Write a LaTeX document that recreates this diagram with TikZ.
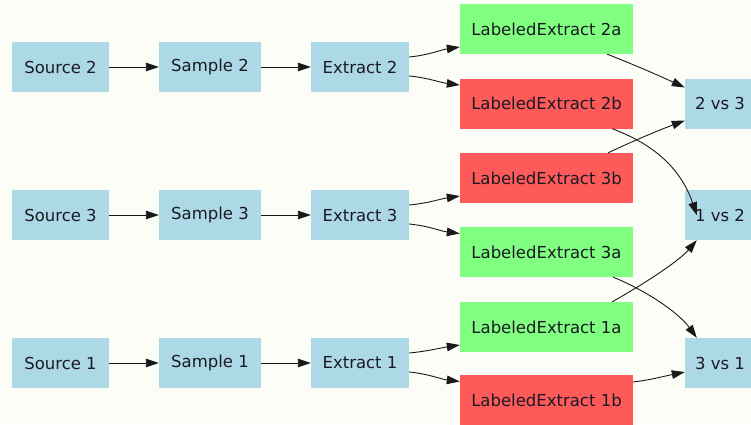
\documentclass[tikz,border=0pt]{standalone}
\usepackage{fontspec}
\setmainfont{DejaVu Sans}
\usetikzlibrary{arrows.meta,calc}
\definecolor{bgc}{HTML}{FDFDF8}
\definecolor{lblue}{HTML}{ADD8E6}
\definecolor{lgreen}{HTML}{80FF80}
\definecolor{lred}{HTML}{FF5A5A}
\definecolor{txt}{HTML}{1A1A24}
\tikzset{
  box/.style={rectangle, draw=none, minimum height=50pt, inner sep=0pt, text=txt,
    font=\fontsize{16.5pt}{19pt}\selectfont},
  bluebox/.style={box, fill=lblue},
  srcbox/.style={bluebox, minimum width=97pt},
  smpbox/.style={bluebox, minimum width=102pt},
  extbox/.style={bluebox, minimum width=98pt},
  cmpbox/.style={bluebox, minimum width=70pt},
  greenbox/.style={box, fill=lgreen, minimum width=173pt},
  redbox/.style={box, fill=lred, minimum width=173pt},
  arr/.style={draw=black!90, line width=0.9pt, -{Triangle[length=13pt,width=8.5pt]}}
}
\begin{document}
\begin{tikzpicture}[x=1pt,y=-1pt]
\fill[bgc] (0,0) rectangle (751,424);
\useasboundingbox (0,0) rectangle (751,424);
\clip (0,0) rectangle (751,424);
% row 2
\node[srcbox] (s2) at (60.5,67) {Source 2};
\node[smpbox] (m2) at (210,67) {Sample 2};
\node[extbox] (e2) at (360,67) {Extract 2};
% row 3
\node[srcbox] (s3) at (60.5,215) {Source 3};
\node[smpbox] (m3) at (210,215) {Sample 3};
\node[extbox] (e3) at (360,215) {Extract 3};
% row 1
\node[srcbox] (s1) at (60.5,363) {Source 1};
\node[smpbox] (m1) at (210,363) {Sample 1};
\node[extbox] (e1) at (360,363) {Extract 1};
% labeled extracts
\node[greenbox] (l2a) at (546.5,29) {LabeledExtract 2a};
\node[redbox]   (l2b) at (546.5,103.5) {LabeledExtract 2b};
\node[redbox]   (l3b) at (546.5,178) {LabeledExtract 3b};
\node[greenbox] (l3a) at (546.5,252) {LabeledExtract 3a};
\node[greenbox] (l1a) at (546.5,327) {LabeledExtract 1a};
\node[redbox]   (l1b) at (546.5,400) {LabeledExtract 1b};
% comparisons
\node[cmpbox] (c23) at (720,103.5) {2 vs 3};
\node[cmpbox] (c12) at (720,215) {1 vs 2};
\node[cmpbox] (c31) at (720,363) {3 vs 1};
% straight chains
\foreach \r in {1,2,3}{
  \draw[arr] (s\r) -- (m\r);
  \draw[arr] (m\r) -- (e\r);
}
% extract -> labeled
\draw[arr] ($(e2.east)+(0,-10)$) .. controls ($(e2.east)+(20,-12)$) and ($(l2a.west)+(-20,21)$) .. ($(l2a.west)+(0,18)$);
\draw[arr] ($(e2.east)+(0,9)$) .. controls ($(e2.east)+(20,11)$) and ($(l2b.west)+(-20,-21)$) .. ($(l2b.west)+(0,-18.5)$);
\draw[arr] ($(e3.east)+(0,-10)$) .. controls ($(e3.east)+(20,-12)$) and ($(l3b.west)+(-20,21)$) .. ($(l3b.west)+(0,18)$);
\draw[arr] ($(e3.east)+(0,9)$) .. controls ($(e3.east)+(20,11)$) and ($(l3a.west)+(-20,-21)$) .. ($(l3a.west)+(0,-18.5)$);
\draw[arr] ($(e1.east)+(0,-10)$) .. controls ($(e1.east)+(20,-12)$) and ($(l1a.west)+(-20,21)$) .. ($(l1a.west)+(0,18)$);
\draw[arr] ($(e1.east)+(0,9)$) .. controls ($(e1.east)+(20,11)$) and ($(l1b.west)+(-20,-21)$) .. ($(l1b.west)+(0,-18.5)$);
% labeled -> comparisons
\draw[arr] ($(l2a.south east)+(-26,0)$) .. controls (635,65) and (662,77) .. ($(c23.west)+(0,-16)$);
\draw[arr] ($(l3b.north east)+(-25,0)$) .. controls (635,140) and (662,129) .. ($(c23.west)+(0,17)$);
\draw[arr] ($(l2b.south east)+(-21,0)$) .. controls (642,140) and (678,160) .. ($(c12.south west)+(12,-25)$);
\draw[arr] ($(l1a.north east)+(-21,0)$) .. controls (642,285) and (678,262) .. ($(c12.south west)+(12,0)$);
\draw[arr] ($(l3a.south east)+(-20,0)$) .. controls (645,290) and (678,312) .. ($(c31.north west)+(12,0)$);
\draw[arr] ($(l1b.east)+(0,-18)$) .. controls (650,380) and (665,376) .. ($(c31.west)+(0,9)$);
\end{tikzpicture}
\end{document}
